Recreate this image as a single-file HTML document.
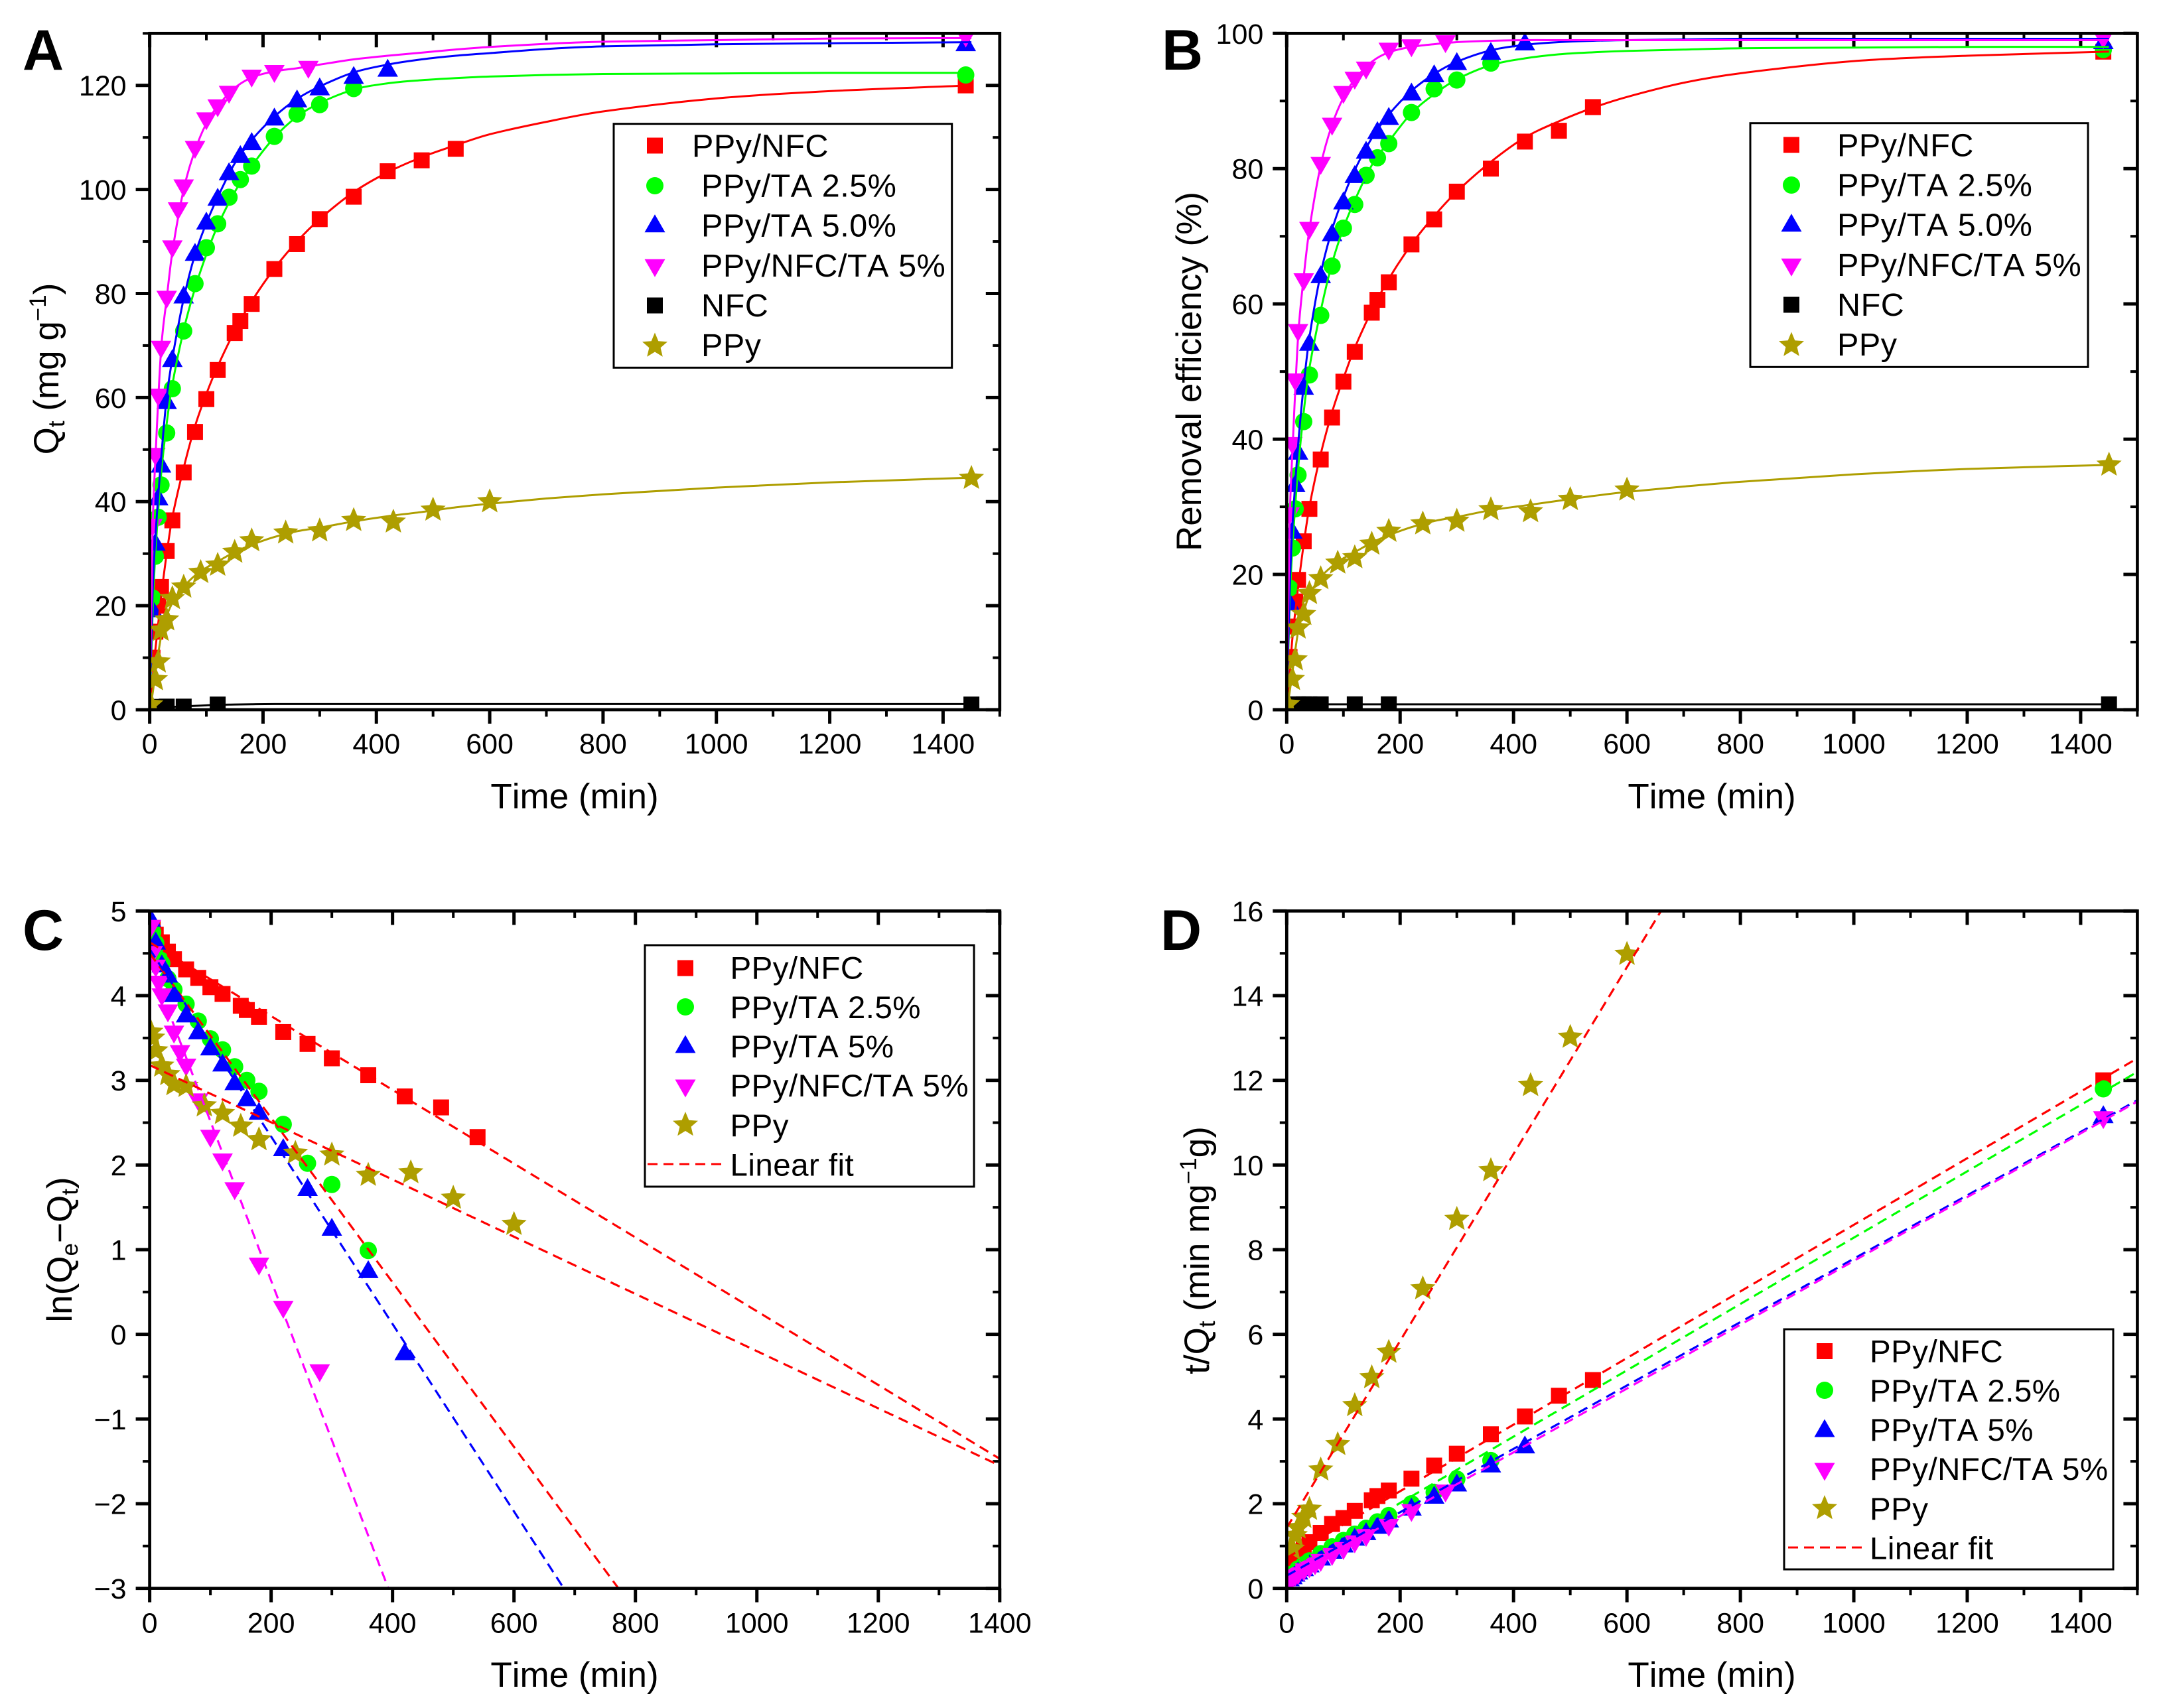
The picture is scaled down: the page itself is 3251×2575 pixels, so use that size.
<!DOCTYPE html>
<html lang="en">
<head>
<meta charset="utf-8">
<title>Adsorption kinetics panels</title>
<style>
html,body{margin:0;padding:0;background:#fff}
svg{display:block}
text{font-family:"Liberation Sans",Arial,sans-serif;fill:#000;font-kerning:none}
.lg{font-size:48.5px;letter-spacing:.55px}
.lg2{font-size:47.5px;letter-spacing:.45px}
.ttl{font-size:53px}
.ytl{font-size:53px}
.let{font-size:86px;font-weight:bold}
.tick{font-size:43px}
</style>
</head>
<body>
<svg id="fig" xmlns="http://www.w3.org/2000/svg" width="3251" height="2575" viewBox="0 0 3251 2575">
<defs>
<rect id="mk-square" x="-12" y="-12" width="24" height="24"/>
<circle id="mk-circle" r="13"/>
<polygon id="mk-up" points="0,-13.5 15.5,13.5 -15.5,13.5"/>
<polygon id="mk-down" points="0,13.5 15.5,-13.5 -15.5,-13.5"/>
<polygon id="mk-star" points="0,-20 5.3,-7.3 19,-6.2 8.6,2.8 11.8,16.2 0,9 -11.8,16.2 -8.6,2.8 -19,-6.2 -5.3,-7.3"/>
<clipPath id="clip-a"><rect x="225.6" y="50.3" width="1281.2" height="1019.7"/></clipPath>
<clipPath id="clip-b"><rect x="1939.3" y="50.3" width="1282.1" height="1019.7"/></clipPath>
<clipPath id="clip-c"><rect x="225.6" y="1373.4" width="1281.2" height="1021.2"/></clipPath>
<clipPath id="clip-d"><rect x="1939.3" y="1373.4" width="1282.1" height="1021.2"/></clipPath>
</defs>
<rect width="3251" height="2575" fill="#fff"/>

<g id="panel-a"></g>
<g id="panel-b"></g>
<g id="panel-c"></g>
<g id="panel-d"></g>

<text class="let" x="34" y="105">A</text>
<text class="let" x="1751" y="105">B</text>
<text class="let" x="34" y="1432">C</text>
<text class="let" x="1749" y="1432">D</text>

<text class="ttl" x="866" y="1218.5" text-anchor="middle">Time (min)</text>
<text class="ttl" x="2580" y="1218.5" text-anchor="middle">Time (min)</text>
<text class="ttl" x="866" y="2543" text-anchor="middle">Time (min)</text>
<text class="ttl" x="2580" y="2543" text-anchor="middle">Time (min)</text>

<text class="ytl" transform="translate(88,556) rotate(-90)" text-anchor="middle">Q<tspan font-size="35" dy="9">t</tspan><tspan dy="-9"> (mg g</tspan><tspan font-size="35" dy="-19">−1</tspan><tspan dy="19">)</tspan></text>
<text class="ytl" transform="translate(1810,560) rotate(-90)" text-anchor="middle">Removal efficiency (%)</text>
<text class="ytl" transform="translate(108,1884) rotate(-90)" text-anchor="middle">ln(Q<tspan font-size="35" dy="9">e</tspan><tspan dy="-9">−Q</tspan><tspan font-size="35" dy="9">t</tspan><tspan dy="-9">)</tspan></text>
<text class="ytl" transform="translate(1822,1885) rotate(-90)" text-anchor="middle">t/Q<tspan font-size="35" dy="9">t</tspan><tspan dy="-9"> (min mg</tspan><tspan font-size="35" dy="-19">−1</tspan><tspan dy="19">g)</tspan></text>

<g>
<rect x="925" y="186.7" width="509.7" height="367.6" fill="#fff" stroke="#000" stroke-width="3"/>
<use href="#mk-square" x="987" y="219.5" fill="#f00"/>
<use href="#mk-circle" x="987" y="280" fill="#0f0"/>
<use href="#mk-up" x="987" y="336.7" fill="#00f"/>
<use href="#mk-down" x="987" y="404.3" fill="#f0f"/>
<use href="#mk-square" x="987" y="460.5" fill="#000"/>
<use href="#mk-star" x="987" y="521.5" fill="#ae9e00"/>
<text class="lg" x="1043" y="236.7">PPy/NFC</text>
<text class="lg" x="1057" y="296.7">PPy/TA 2.5%</text>
<text class="lg" x="1057" y="356.7">PPy/TA 5.0%</text>
<text class="lg" x="1057" y="417">PPy/NFC/TA 5%</text>
<text class="lg" x="1057" y="477">NFC</text>
<text class="lg" x="1057" y="537">PPy</text>
</g>

<g>
<rect x="2638" y="185.7" width="509" height="367.6" fill="#fff" stroke="#000" stroke-width="3"/>
<use href="#mk-square" x="2700" y="218.5" fill="#f00"/>
<use href="#mk-circle" x="2700" y="279" fill="#0f0"/>
<use href="#mk-up" x="2700" y="335.7" fill="#00f"/>
<use href="#mk-down" x="2700" y="403.3" fill="#f0f"/>
<use href="#mk-square" x="2700" y="459.5" fill="#000"/>
<use href="#mk-star" x="2700" y="520.5" fill="#ae9e00"/>
<text class="lg" x="2769" y="235.7">PPy/NFC</text>
<text class="lg" x="2769" y="295.7">PPy/TA 2.5%</text>
<text class="lg" x="2769" y="355.7">PPy/TA 5.0%</text>
<text class="lg" x="2769" y="416">PPy/NFC/TA 5%</text>
<text class="lg" x="2769" y="476">NFC</text>
<text class="lg" x="2769" y="536">PPy</text>
</g>

<g>
<rect x="972" y="1425" width="496" height="364" fill="#fff" stroke="#000" stroke-width="3"/>
<use href="#mk-square" x="1033" y="1459.5" fill="#f00"/>
<use href="#mk-circle" x="1033" y="1518" fill="#0f0"/>
<use href="#mk-up" x="1033" y="1574" fill="#00f"/>
<use href="#mk-down" x="1033" y="1641" fill="#f0f"/>
<use href="#mk-star" x="1033" y="1696" fill="#ae9e00"/>
<line x1="976" y1="1755" x2="1091" y2="1755" stroke="#f00" stroke-width="3" stroke-dasharray="15 9"/>
<text class="lg2" x="1100.5" y="1475.5">PPy/NFC</text>
<text class="lg2" x="1100.5" y="1535">PPy/TA 2.5%</text>
<text class="lg2" x="1100.5" y="1594">PPy/TA 5%</text>
<text class="lg2" x="1100.5" y="1653">PPy/NFC/TA 5%</text>
<text class="lg2" x="1100.5" y="1713">PPy</text>
<text class="lg2" x="1100.5" y="1772.5">Linear fit</text>
</g>

<g>
<rect x="2689" y="2004" width="496" height="362" fill="#fff" stroke="#000" stroke-width="3"/>
<use href="#mk-square" x="2750" y="2037" fill="#f00"/>
<use href="#mk-circle" x="2750" y="2096" fill="#0f0"/>
<use href="#mk-up" x="2750" y="2153" fill="#00f"/>
<use href="#mk-down" x="2750" y="2219" fill="#f0f"/>
<use href="#mk-star" x="2750" y="2274" fill="#ae9e00"/>
<line x1="2695" y1="2333" x2="2807" y2="2333" stroke="#f00" stroke-width="3" stroke-dasharray="15 9"/>
<text class="lg2" x="2818" y="2053.5">PPy/NFC</text>
<text class="lg2" x="2818" y="2113">PPy/TA 2.5%</text>
<text class="lg2" x="2818" y="2172">PPy/TA 5%</text>
<text class="lg2" x="2818" y="2231">PPy/NFC/TA 5%</text>
<text class="lg2" x="2818" y="2291">PPy</text>
<text class="lg2" x="2818" y="2350.5">Linear fit</text>
</g>
</svg>

<script>
// ---------- tick values ----------
const xMajor = [0,200,400,600,800,1000,1200,1400];
const xMinorAB = [100,300,500,700,900,1100,1300,1500];
const xMinorC = [100,300,500,700,900,1100,1300];
const yMajorA = [0,20,40,60,80,100,120];
const yMinorA = [10,30,50,70,90,110,130];
const yMajorB = [0,20,40,60,80,100];
const yMinorB = [10,30,50,70,90];
const yMajorC = [-3,-2,-1,0,1,2,3,4,5];
const yMinorC = [-2.5,-1.5,-0.5,0.5,1.5,2.5,3.5,4.5];
const yMajorD = [0,2,4,6,8,10,12,14,16];
const yMinorD = [1,3,5,7,9,11,13,15];

// ---------- panel A: Qt vs time ----------
const aNfcT = [5,10,15,20,30,40,60,80,100,120,150,160,180,220,260,300,360,420,480,540,1440];
const aNfcY = [10,15,20,23.6,30.5,36.4,45.6,53.4,59.7,65.3,72.4,74.7,78,84.7,89.5,94.3,98.6,103.5,105.6,107.8,120];
const aTa25T = [5,10,15,20,30,40,60,80,100,120,140,160,180,220,260,300,360,1440];
const aTa25Y = [21.5,29.5,37,43.2,53.2,61.7,72.8,81.9,88.8,93.4,98.5,101.9,104.5,110.2,114.5,116.3,119.4,122];
const aTa5T = [5,10,15,20,30,40,60,80,100,120,140,160,180,220,260,300,360,420,1440];
const aTa5Y = [19.5,32.3,41,47.3,59.5,67.6,79.8,88,94,98.6,103.5,106.8,109.3,114,117.5,119.8,122,123.4,128.3];
const aNfcTaT = [5,10,15,20,30,40,50,60,80,100,120,140,180,220,280,1440];
const aNfcTaY = [35,48.6,60,69.2,78.8,88.5,95.8,100.2,107.6,113.1,115.6,118.2,121.3,122.2,123,129];
const aBareT = [5,10,20,30,60,120,1450];
const aBareY = [0.4,0.5,0.55,0.6,0.6,1,1];
const aPpyT = [2,10,15,20,30,40,60,90,120,150,180,240,300,360,430,500,600,1450];
const aPpyY = [1,5.8,9.2,15.3,17.3,21.4,23.6,26.4,27.8,30.3,32.5,34,34.4,36.4,36.1,38.4,40,44.5];
const curveT = [0,5,10,20,30,40,60,80,100,120,150,180,220,260,300,360,420,480,540,600,700,800,1000,1200,1450];
const aNfcFit = [0,6,11.5,21.5,30,37,46.5,54.5,60.7,66,72.8,78.5,84.8,90,94.3,99.5,103.3,106.2,108.5,110.6,113,115,117.5,118.9,120];
const aTa25Fit = [0,18,30,45,55,62.5,73,81,87.5,93,99.5,104.5,110,114,116.6,119.2,120.4,121,121.4,121.7,122,122.2,122.3,122.4,122.4];
const aTa5Fit = [0,22,33,48,60,67.5,79,87.5,93.5,98.5,105,109.5,114,117.4,119.8,122.5,124,125,125.7,126.2,127,127.5,127.9,128.1,128.3];
const aNfcTaFit = [0,34,48,69,79,88,100,107.5,112.7,116,119.5,121.5,122.7,123.3,124,125,125.7,126.3,126.9,127.4,128,128.4,128.7,129,129.1];
const aBareFit = [0,0.2,0.3,0.4,0.5,0.55,0.65,0.75,0.85,0.95,1,1.05,1.1,1.1,1.1,1.1,1.1,1.1,1.1,1.1,1.1,1.1,1.1,1.1,1.1];
const aPpyFit = [0,3,7,14,18,20.5,23.6,25.8,27.3,28.5,30.3,31.7,33.2,34.3,35,36.2,37.2,38,38.9,39.6,40.6,41.4,42.7,43.7,44.6];

// ---------- panel B: removal efficiency vs time ----------
const bNfcT = [5,10,15,20,30,40,60,80,100,120,150,160,180,220,260,300,360,420,480,540,1440];
const bNfcY = [7.8,12.3,16,19.2,24.9,29.7,37,43.2,48.5,52.9,58.7,60.6,63.2,68.8,72.5,76.6,80,84,85.6,89.1,97.3];
const bTa25T = [5,10,15,20,30,40,60,80,100,120,140,160,180,220,260,300,360,1440];
const bTa25Y = [18,23.9,29.7,34.7,42.6,49.5,58.3,65.6,71.2,74.7,79,81.6,83.7,88.3,91.8,93.1,95.6,97.6];
const bTa5T = [5,10,15,20,30,40,60,80,100,120,140,160,180,220,260,300,360,420,1440];
const bTa5Y = [16,26.6,33.5,38.3,47.9,54.4,64.4,70.6,75.3,79.2,82.8,85.7,87.8,91.4,94.1,95.9,97.4,98.8,99];
const bNfcTaT = [5,10,15,20,30,40,60,80,100,120,140,180,220,280,1440];
const bNfcTaY = [28.6,39,48.4,55.7,63.2,70.8,80.4,86.2,90.9,93,94.5,97.3,97.8,98.4,99];
const bBareT = [20,30,40,60,120,180,1450];
const bBareY = [0.8,0.8,0.8,0.8,0.8,0.8,0.8];
const bPpyT = [2,10,15,20,30,40,60,90,120,150,180,240,300,360,430,500,600,1450];
const bPpyY = [0.8,4.5,7.4,12.1,14.1,17.2,19.4,21.7,22.5,24.5,26.4,27.5,27.9,29.6,29.3,31.1,32.5,36.2];
const bNfcFit = [0,5,10.5,18,24.5,30,37.8,44,49,53.5,59,63.7,68.8,73,76.6,81,84.6,87,89,90.6,92.7,94.1,95.9,96.7,97.3];
const bTa25Fit = [0,15,24,35.5,44,50.5,59,66,71.2,75.3,80.5,84,88.2,91,93.2,95.3,96.3,96.9,97.2,97.4,97.6,97.8,97.9,98,98];
const bTa5Fit = [0,17,27,39,48,55,64.5,71,75.8,79.8,84.5,88,91.5,94,95.8,97.5,98.3,98.7,98.9,99,99.1,99.2,99.2,99.2,99.2];
const bNfcTaFit = [0,27,38,55,64,71,80.5,86.5,90.5,93.2,95.8,97.2,98,98.4,98.7,98.9,99,99,99,99,99,99,99,99,99];
const bBareFit = [0,0.4,0.6,0.7,0.75,0.8,0.8,0.8,0.8,0.8,0.8,0.8,0.8,0.8,0.8,0.8,0.8,0.8,0.8,0.8,0.8,0.8,0.8,0.8,0.8];
const bPpyFit = [0,2.5,5.5,11.5,14.5,17,19.6,21.2,22.4,23.3,24.7,25.8,27,27.9,28.5,29.5,30.2,30.9,31.6,32.2,33,33.7,34.8,35.6,36.2];

// ---------- panel C: ln(Qe-Qt) vs time ----------
const cNfcT = [5,10,20,30,40,60,80,100,120,150,160,180,220,260,300,360,420,480,540];
const cNfcY = [4.8,4.72,4.63,4.52,4.43,4.31,4.21,4.1,4.02,3.88,3.83,3.75,3.57,3.43,3.26,3.06,2.81,2.68,2.33];
const cTa25T = [5,10,15,20,30,40,60,80,100,120,140,160,180,220,260,300,360];
const cTa25Y = [4.75,4.62,4.45,4.38,4.2,4.07,3.9,3.7,3.49,3.36,3.16,3,2.87,2.48,2.02,1.77,0.99];
const cTa5T = [2,10,20,30,40,60,80,100,120,140,160,180,220,260,300,360,420];
const cTa5Y = [4.92,4.65,4.38,4.26,4.03,3.79,3.59,3.4,3.21,2.99,2.8,2.64,2.21,1.74,1.27,0.77,-0.2];
const cNfcTaT = [2,5,10,15,20,30,40,50,60,80,100,120,140,180,220,280];
const cNfcTaY = [4.79,4.48,4.32,4.13,3.98,3.79,3.54,3.31,3.15,2.74,2.31,2.03,1.69,0.8,0.29,-0.46];
const cPpyT = [2,5,10,20,30,40,60,90,120,150,180,240,300,360,430,500,600];
const cPpyY = [3.57,3.5,3.35,3.17,3.07,2.95,2.93,2.7,2.61,2.46,2.3,2.14,2.12,1.88,1.91,1.61,1.3];
const cNfcFitT = [0,1400];
const cNfcFitY = [4.63,-1.47];
const cPpyFitT = [0,1400];
const cPpyFitY = [3.18,-1.55];
const cTa25FitT = [0,772];
const cTa25FitY = [4.5,-3];
const cTa5FitT = [0,682];
const cTa5FitY = [4.55,-3];
const cNfcTaFitT = [0,393];
const cNfcTaFitY = [4.4,-3];

// ---------- panel D: t/Qt vs time ----------
const dNfcT = [10,20,30,40,60,80,100,120,150,160,180,220,260,300,360,420,480,540,1440];
const dNfcY = [0.67,0.84,0.97,1.09,1.31,1.52,1.66,1.83,2.08,2.18,2.31,2.59,2.9,3.18,3.64,4.06,4.55,4.92,12];
const dTa25T = [10,20,30,40,60,80,100,120,140,160,180,220,260,300,360,1440];
const dTa25Y = [0.34,0.46,0.56,0.65,0.82,0.98,1.13,1.28,1.42,1.57,1.72,2,2.27,2.58,3.02,11.8];
const dTa5T = [5,10,15,20,30,40,60,80,100,120,140,160,180,220,260,300,360,420,1440];
const dTa5Y = [0.26,0.31,0.37,0.42,0.5,0.59,0.75,0.91,1.06,1.22,1.35,1.5,1.65,1.93,2.21,2.5,2.95,3.4,11.2];
const dNfcTaT = [5,10,15,20,30,40,50,60,80,100,120,140,180,220,280,1440];
const dNfcTaY = [0.14,0.2,0.25,0.29,0.38,0.45,0.52,0.6,0.74,0.88,1.04,1.19,1.43,1.78,2.24,11.06];
const dPpyT = [10,15,20,30,40,60,90,120,150,180,240,300,360,430,500,600];
const dPpyY = [0.93,1.25,1.43,1.68,1.87,2.8,3.4,4.32,4.98,5.58,7.08,8.72,9.87,11.88,13.02,14.98];
const dFitT = [0,1500];
const dNfcFitY = [0.72,12.52];
const dTa25FitY = [0.45,12.2];
const dTa5FitY = [0.3,11.53];
const dNfcTaFitY = [0.2,11.5];
const dPpyFitT = [0,660];
const dPpyFitY = [1.43,16];

const RED = '#ff0000', GREEN = '#00ff00', BLUE = '#0000ff', MAG = '#ff00ff', BLK = '#000000', OLIVE = '#ae9e00';
const NS = 'http://www.w3.org/2000/svg';

function scale(d0, d1, p0, p1) {
  return function (v) { return p0 + (v - d0) * (p1 - p0) / (d1 - d0); };
}
function mk(tag, parent, attrs) {
  const el = document.createElementNS(NS, tag);
  for (const k in attrs) el.setAttribute(k, attrs[k]);
  parent.appendChild(el);
  return el;
}
function tickSet(g, p, xMaj, xMin, yMaj, yMin) {
  const maj = 21, minr = 10.5;
  xMaj.concat(xMin).forEach(function (v) {
    const isMaj = xMaj.indexOf(v) >= 0;
    const len = isMaj ? maj : minr;
    const sw = isMaj ? 5 : 4;
    const x = p.x(v);
    const b = mk('line', g, {x1: x, x2: x, y1: p.bottom, y2: p.bottom + len, stroke: '#000', 'stroke-width': sw});
    
    
    const t = mk('line', g, {x1: x, x2: x, y1: p.top, y2: p.top + len, stroke: '#000', 'stroke-width': sw});
    
    
  });
  yMaj.concat(yMin).forEach(function (v) {
    const isMaj = yMaj.indexOf(v) >= 0;
    const len = isMaj ? maj : minr;
    const sw = isMaj ? 5 : 4;
    const y = p.y(v);
    const l = mk('line', g, {x1: p.left - len, x2: p.left, y1: y, y2: y, stroke: '#000', 'stroke-width': sw});
    
    
    const r = mk('line', g, {x1: p.right - len, x2: p.right, y1: y, y2: y, stroke: '#000', 'stroke-width': sw});
    
    
  });
  xMaj.forEach(function (v) {
    const t = mk('text', g, {x: p.x(v), y: p.labelBase, 'text-anchor': 'middle', class: 'tick'});
    
    
    t.textContent = String(v);
  });
  yMaj.forEach(function (v) {
    const t = mk('text', g, {x: p.left - 35, y: p.y(v) + 15.5, 'text-anchor': 'end', class: 'tick'});
    
    
    t.textContent = String(v).replace('-', '\u2212');
  });
}
function frame(g, p) {
  const f = mk('rect', g, {x: p.left, y: p.top, width: p.right - p.left, height: p.bottom - p.top, fill: 'none', stroke: '#000', 'stroke-width': 4.7});
  
  
}
function marker(g, p, shape, color, t, v, name) {
  const x = p.x(t), y = p.y(v);
  const cp = 'url(#' + p.clip + ')';
  let el;
  if (shape === 'square') {
    el = mk('rect', g, {x: x - 12, y: y - 12, width: 24, height: 24, fill: color, 'clip-path': cp});
  } else if (shape === 'circle') {
    el = mk('circle', g, {cx: x, cy: y, r: 13, fill: color, 'clip-path': cp});
  } else {
    let pts;
    if (shape === 'up') {
      pts = [[0,-13.5],[15.5,13.5],[-15.5,13.5]];
    } else if (shape === 'down') {
      pts = [[0,13.5],[15.5,-13.5],[-15.5,-13.5]];
    } else {
      pts = [[0,-20],[5.3,-7.3],[19,-6.2],[8.6,2.8],[11.8,16.2],[0,9],[-11.8,16.2],[-8.6,2.8],[-19,-6.2],[-5.3,-7.3]];
    }
    el = mk('polygon', g, {points: pts.map(function (q) { return (x + q[0]) + ',' + (y + q[1]); }).join(' '), fill: color, 'clip-path': cp});
  }
  
  
}
function points(g, p, shape, color, ts, vs, name) {
  ts.forEach(function (t, i) { marker(g, p, shape, color, t, vs[i], name); });
}
function smooth(p, ts, vs) {
  const q = ts.map(function (t, i) { return [p.x(t), p.y(vs[i])]; });
  const n = q.length;
  const m = q.map(function (pt, i) {
    const a = q[Math.max(i - 1, 0)], b = q[Math.min(i + 1, n - 1)];
    return (b[1] - a[1]) / (b[0] - a[0]);
  });
  let d = 'M' + q[0][0] + ' ' + q[0][1];
  for (let i = 0; i < n - 1; i++) {
    const h = (q[i + 1][0] - q[i][0]) / 3;
    d += ' C' + (q[i][0] + h) + ' ' + (q[i][1] + m[i] * h) + ' ' + (q[i + 1][0] - h) + ' ' + (q[i + 1][1] - m[i + 1] * h) + ' ' + q[i + 1][0] + ' ' + q[i + 1][1];
  }
  return d;
}
function curve(g, p, color, ts, vs, name) {
  const el = mk('path', g, {d: smooth(p, ts, vs), fill: 'none', stroke: color, 'stroke-width': 3, 'clip-path': 'url(#' + p.clip + ')'});
  
  
}
function fitLine(g, p, color, ts, vs, name) {
  const el = mk('line', g, {x1: p.x(ts[0]), y1: p.y(vs[0]), x2: p.x(ts[1]), y2: p.y(vs[1]), stroke: color, 'stroke-width': 3.2, 'stroke-dasharray': '15 9', 'clip-path': 'url(#' + p.clip + ')'});
  
  
}
function panel(id, clip, left, right, top, bottom, labelBase, xMaxV, yMinV, yMaxV) {
  return {g: document.getElementById(id), clip: clip, left: left, right: right, top: top, bottom: bottom, labelBase: labelBase,
    x: scale(0, xMaxV, left, right), y: scale(yMinV, yMaxV, bottom, top)};
}

const pA = panel('panel-a', 'clip-a', 225.6, 1506.8, 50.3, 1070, 1136, 1500, 0, 130);
tickSet(pA.g, pA, xMajor, xMinorAB, yMajorA, yMinorA);
points(pA.g, pA, 'square', RED, aNfcT, aNfcY, 'point-ppy-nfc');
points(pA.g, pA, 'circle', GREEN, aTa25T, aTa25Y, 'point-ppy-ta-2-5');
points(pA.g, pA, 'up', BLUE, aTa5T, aTa5Y, 'point-ppy-ta-5');
points(pA.g, pA, 'down', MAG, aNfcTaT, aNfcTaY, 'point-ppy-nfc-ta-5');
points(pA.g, pA, 'square', BLK, aBareT, aBareY, 'point-nfc');
curve(pA.g, pA, RED, curveT, aNfcFit, 'fit-ppy-nfc');
curve(pA.g, pA, GREEN, curveT, aTa25Fit, 'fit-ppy-ta-2-5');
curve(pA.g, pA, BLUE, curveT, aTa5Fit, 'fit-ppy-ta-5');
curve(pA.g, pA, MAG, curveT, aNfcTaFit, 'fit-ppy-nfc-ta-5');
curve(pA.g, pA, BLK, curveT, aBareFit, 'fit-nfc');
points(pA.g, pA, 'star', OLIVE, aPpyT, aPpyY, 'point-ppy');
curve(pA.g, pA, OLIVE, curveT, aPpyFit, 'fit-ppy');
frame(pA.g, pA);

const pB = panel('panel-b', 'clip-b', 1939.3, 3221.4, 50.3, 1070, 1136, 1500, 0, 100);
tickSet(pB.g, pB, xMajor, xMinorAB, yMajorB, yMinorB);
points(pB.g, pB, 'square', RED, bNfcT, bNfcY, 'point-ppy-nfc');
points(pB.g, pB, 'circle', GREEN, bTa25T, bTa25Y, 'point-ppy-ta-2-5');
points(pB.g, pB, 'up', BLUE, bTa5T, bTa5Y, 'point-ppy-ta-5');
points(pB.g, pB, 'down', MAG, bNfcTaT, bNfcTaY, 'point-ppy-nfc-ta-5');
points(pB.g, pB, 'square', BLK, bBareT, bBareY, 'point-nfc');
curve(pB.g, pB, RED, curveT, bNfcFit, 'fit-ppy-nfc');
curve(pB.g, pB, GREEN, curveT, bTa25Fit, 'fit-ppy-ta-2-5');
curve(pB.g, pB, BLUE, curveT, bTa5Fit, 'fit-ppy-ta-5');
curve(pB.g, pB, MAG, curveT, bNfcTaFit, 'fit-ppy-nfc-ta-5');
curve(pB.g, pB, BLK, curveT, bBareFit, 'fit-nfc');
points(pB.g, pB, 'star', OLIVE, bPpyT, bPpyY, 'point-ppy');
curve(pB.g, pB, OLIVE, curveT, bPpyFit, 'fit-ppy');
frame(pB.g, pB);

const pC = panel('panel-c', 'clip-c', 225.6, 1506.8, 1373.4, 2394.6, 2461.5, 1400, -3, 5);
tickSet(pC.g, pC, xMajor, xMinorC, yMajorC, yMinorC);
points(pC.g, pC, 'square', RED, cNfcT, cNfcY, 'point-ppy-nfc');
points(pC.g, pC, 'circle', GREEN, cTa25T, cTa25Y, 'point-ppy-ta-2-5');
points(pC.g, pC, 'up', BLUE, cTa5T, cTa5Y, 'point-ppy-ta-5');
points(pC.g, pC, 'down', MAG, cNfcTaT, cNfcTaY, 'point-ppy-nfc-ta-5');
points(pC.g, pC, 'star', OLIVE, cPpyT, cPpyY, 'point-ppy');
fitLine(pC.g, pC, RED, cNfcFitT, cNfcFitY, 'fit-ppy-nfc');
fitLine(pC.g, pC, RED, cTa25FitT, cTa25FitY, 'fit-ppy-ta-2-5');
fitLine(pC.g, pC, BLUE, cTa5FitT, cTa5FitY, 'fit-ppy-ta-5');
fitLine(pC.g, pC, MAG, cNfcTaFitT, cNfcTaFitY, 'fit-ppy-nfc-ta-5');
fitLine(pC.g, pC, RED, cPpyFitT, cPpyFitY, 'fit-ppy');
frame(pC.g, pC);

const pD = panel('panel-d', 'clip-d', 1939.3, 3221.4, 1373.4, 2394.6, 2461.5, 1500, 0, 16);
tickSet(pD.g, pD, xMajor, xMinorAB, yMajorD, yMinorD);
points(pD.g, pD, 'square', RED, dNfcT, dNfcY, 'point-ppy-nfc');
points(pD.g, pD, 'circle', GREEN, dTa25T, dTa25Y, 'point-ppy-ta-2-5');
points(pD.g, pD, 'up', BLUE, dTa5T, dTa5Y, 'point-ppy-ta-5');
points(pD.g, pD, 'down', MAG, dNfcTaT, dNfcTaY, 'point-ppy-nfc-ta-5');
points(pD.g, pD, 'star', OLIVE, dPpyT, dPpyY, 'point-ppy');
fitLine(pD.g, pD, RED, dFitT, dNfcFitY, 'fit-ppy-nfc');
fitLine(pD.g, pD, GREEN, dFitT, dTa25FitY, 'fit-ppy-ta-2-5');
fitLine(pD.g, pD, BLUE, dFitT, dTa5FitY, 'fit-ppy-ta-5');
fitLine(pD.g, pD, MAG, dFitT, dNfcTaFitY, 'fit-ppy-nfc-ta-5');
fitLine(pD.g, pD, RED, dPpyFitT, dPpyFitY, 'fit-ppy');
frame(pD.g, pD);
</script>
</body>
</html>
